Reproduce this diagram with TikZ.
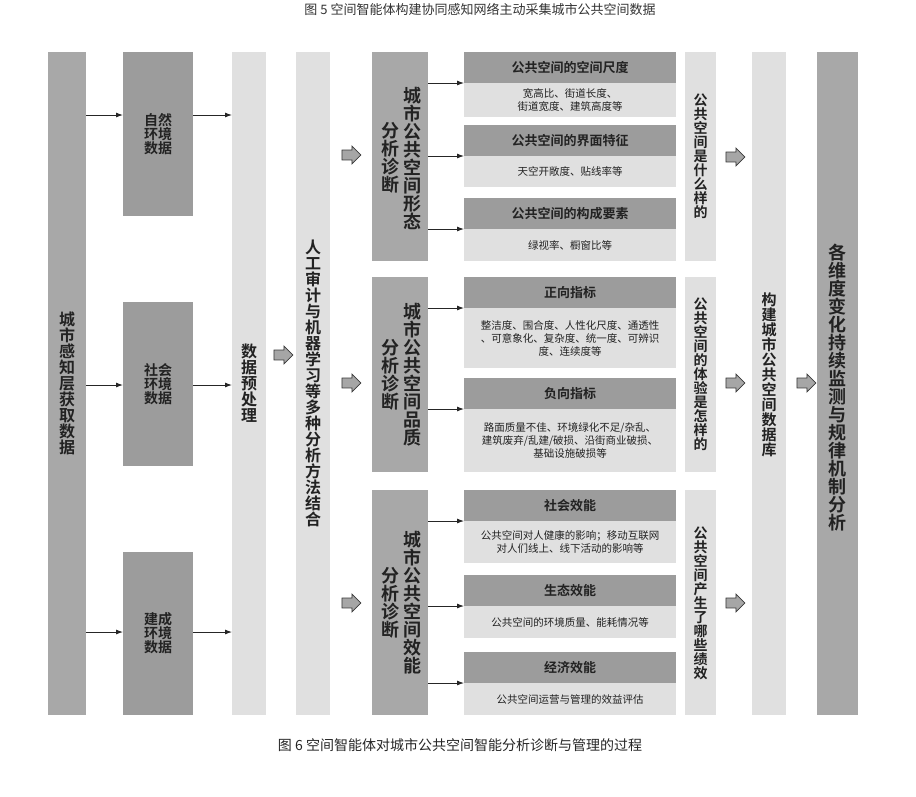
\documentclass[tikz,border=0pt]{standalone}
\usepackage{fontspec}
\setmainfont{Noto Sans CJK SC}[BoldFont={* Bold}]
\usetikzlibrary{shapes.arrows,arrows.meta}
\definecolor{mid}{HTML}{A8A8A8}
\definecolor{dark}{HTML}{9C9C9C}
\definecolor{lite}{HTML}{E0E0E0}
\definecolor{txt}{HTML}{222222}
\begin{document}
\begin{tikzpicture}[x=1pt,y=-1pt,
 vt/.style={align=center,text=txt,inner sep=0,font=\bfseries\fontsize{#1}{#1}\selectfont},
 vt/.default=15,
 hdr/.style={text=txt,font=\bfseries\fontsize{13}{15}\selectfont},
 bdy/.style={text=txt,align=center,font=\fontsize{10.5}{13}\selectfont},
 ln/.style={-{Latex[length=7pt,width=5pt]},line width=0.9pt,draw=black!85},
 blk/.style={single arrow,fill=gray!70,draw=gray!45!black,line width=0.7pt,minimum height=19pt,minimum width=18pt,single arrow head extend=4pt,inner sep=0pt,single arrow head indent=0pt}]
\useasboundingbox (0,0) rectangle (916,796);
\fill[white] (0,0) rectangle (916,796);
\node[text=black!80,font=\fontsize{13}{15}\selectfont] (cap5) at (480,9) {图 5\ 空间智能体构建协同感知网络主动采集城市公共空间数据};
% left column
\fill[mid] (48,52) rectangle (86,715); \node[vt=16] (L) at (67,383) {城\\市\\感\\知\\层\\获\\取\\数\\据};
\path[fill=dark] (123,52) rectangle (193,216); \node[vt=14] (N1) at (158,134) {自然\\环境\\数据};
\path[fill=dark] (123,302) rectangle (193,466); \node[vt=14] (N2) at (158,384) {社会\\环境\\数据};
\path[fill=dark] (123,552) rectangle (193,715); \node[vt=14] (N3) at (158,633) {建成\\环境\\数据};
\coordinate (Le) at (86,0); \coordinate (Nw) at (123,0); \coordinate (Ne) at (193,0); \coordinate (Pw) at (232,0);
\foreach \y in {115,385,632}{\draw[ln] (Le |- 0,\y) -- (Nw |- 0,\y); \draw[ln] (Ne |- 0,\y) -- (Pw |- 0,\y);}
\fill[lite] (232,52) rectangle (266,715); \node[vt=16] (P) at (249,383) {数\\据\\预\\处\\理};
\node[blk] (a1) at (281,355) {\rule{0pt}{9pt}};
\fill[lite] (296,52) rectangle (330,715); \node[vt=16] (M) at (313,383) {人\\工\\审\\计\\与\\机\\器\\学\\习\\等\\多\\种\\分\\析\\方\\法\\结\\合};
\foreach \y/\n in {155/b1,383/b2,603/b3}{\node[blk] (\n) at (349,\y) {\rule{0pt}{9pt}};}
% analysis groups
\fill[mid] (372,52) rectangle (428,261); \fill[mid] (372,277) rectangle (428,472); \fill[mid] (372,490) rectangle (428,715);
\node[vt=18] (G1a) at (412,158) {城\\市\\公\\共\\空\\间\\形\\态};
\node[vt=18] (G1b) at (390,158) {分\\析\\诊\\断};
\node[vt=18] (G2a) at (412,375) {城\\市\\公\\共\\空\\间\\品\\质};
\node[vt=18] (G2b) at (390,375) {分\\析\\诊\\断};
\node[vt=18] (G3a) at (412,603) {城\\市\\公\\共\\空\\间\\效\\能};
\node[vt=18] (G3b) at (390,603) {分\\析\\诊\\断};
% sub boxes
\foreach \t/\h/\b/\n/\head/\body in {
 52/83/117/s1/{公共空间的空间尺度}/{宽高比、街道长度、\\街道宽度、建筑高度等},
 125/156/187/s2/{公共空间的界面特征}/{天空开敞度、贴线率等},
 198/229/261/s3/{公共空间的构成要素}/{绿视率、橱窗比等},
 277/308/368/s4/{正向指标}/{整洁度、围合度、人性化尺度、通透性\\、可意象化、复杂度、统一度、可辨识\\度、连续度等},
 378/409/472/s5/{负向指标}/{路面质量不佳、环境绿化不足/杂乱、\\建筑废弃/乱建/破损、沿街商业破损、\\基础设施破损等},
 490/521/563/s6/{社会效能}/{公共空间对人健康的影响；移动互联网\\对人们线上、线下活动的影响等},
 575/606/638/s7/{生态效能}/{公共空间的环境质量、能耗情况等},
 652/683/715/s8/{经济效能}/{公共空间运营与管理的效益评估}}{
 \fill[dark] (464,\t) rectangle (676,\h); \fill[lite] (464,\h) rectangle (676,\b);
 \node[hdr] (\n h) at (570,{(\t+\h)/2}) {\head};
 \node[bdy] (\n b) at (570,{(\h+\b)/2}) {\body};
 \coordinate (\n w) at (464,\h);
}
\coordinate (Ge) at (428,0);
\foreach \n in {s1,s2,s3,s4,s5,s6,s7,s8}{\draw[ln] (Ge |- \n w) -- (\n w);}
% question columns
\fill[lite] (685,52) rectangle (716,261); \fill[lite] (685,277) rectangle (716,472); \fill[lite] (685,490) rectangle (716,715);
\node[vt=14] (Q1) at (700.5,156) {公\\共\\空\\间\\是\\什\\么\\样\\的};
\node[vt=14] (Q2) at (700.5,374) {公\\共\\空\\间\\的\\体\\验\\是\\怎\\样\\的};
\node[vt=14] (Q3) at (700.5,603) {公\\共\\空\\间\\产\\生\\了\\哪\\些\\绩\\效};
\foreach \y/\n in {157/c1,383/c2,603/c3}{\node[blk] (\n) at (733,\y) {\rule{0pt}{9pt}};}
\fill[lite] (752,52) rectangle (786,715); \node[vt=15] (D) at (769,375) {构\\建\\城\\市\\公\\共\\空\\间\\数\\据\\库};
\node[blk] (d1) at (804,383) {\rule{0pt}{9pt}};
\fill[mid] (817,52) rectangle (858,715); \node[vt=18] (R) at (837.5,388) {各\\维\\度\\变\\化\\持\\续\\监\\测\\与\\规\\律\\机\\制\\分\\析};
\node[text=black!85,font=\fontsize{14}{16}\selectfont] (cap6) at (460,745) {图 6\ 空间智能体对城市公共空间智能分析诊断与管理的过程};
\end{tikzpicture}
\end{document}
